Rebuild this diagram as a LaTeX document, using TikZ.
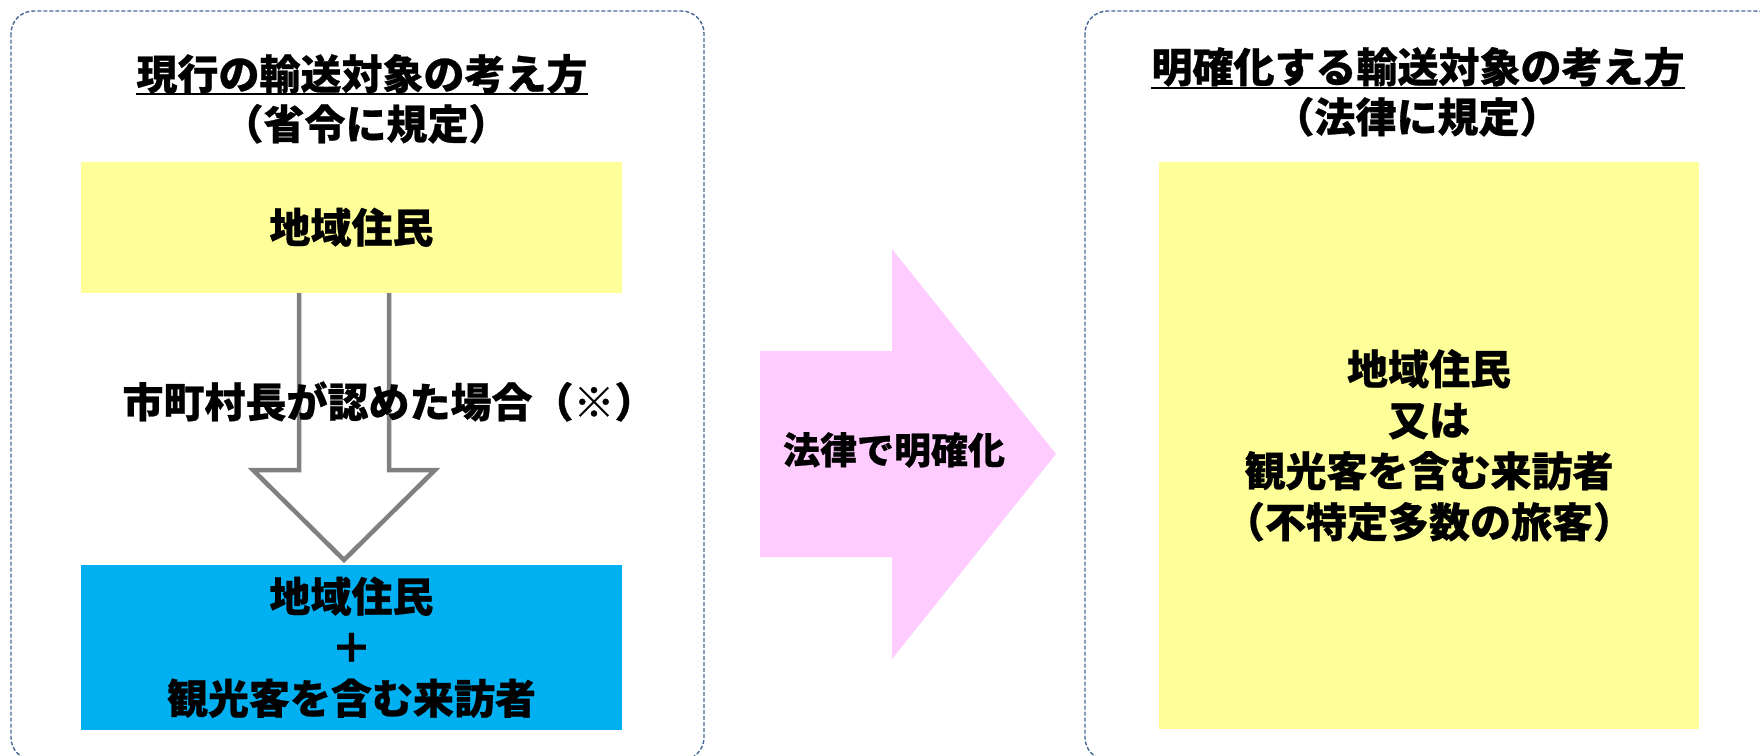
\documentclass[tikz,border=0pt]{standalone}
\usepackage{fontspec}
\setmainfont{Noto Sans CJK JP}[BoldFeatures={FakeBold=0.6}]
\definecolor{panelblue}{RGB}{72,104,152}
\definecolor{ylw}{HTML}{FFFF99}
\definecolor{cyanbox}{HTML}{00B0F0}
\definecolor{pinkarrow}{HTML}{FFCCFF}
\definecolor{grayarrow}{HTML}{808080}
\begin{document}
\begin{tikzpicture}[x=1pt,y=-1pt,
  panel/.style={draw=panelblue, dash pattern=on 4pt off 2pt, line width=1.4pt, rounded corners=22.5pt},
  big/.style={inner sep=0pt, align=center, text=black,
    font=\bfseries\fontsize{41}{51}\selectfont, text depth=0pt},
  one/.style={big, text height=30.75pt},
  three/.style={big, text height=132.75pt},
  four/.style={big, text height=183.75pt},
  arrowtxt/.style={inner sep=0pt, text=black, font=\bfseries\fontsize{37}{44}\selectfont,
    text height=27.75pt, text depth=0pt},
  ubar/.style={line width=2.2pt, black},
  outlinearrow/.style={draw=grayarrow, line width=4.5pt, miter limit=10, fill=white}
]
\useasboundingbox (0,0) rectangle (1760,755);
\clip (0,0) rectangle (1760,755);

% panels
\draw[panel] (11,11) rectangle (704,760);
\draw[panel] (1085,11) rectangle (1778,760);

% left panel titles
\node[one] (t1) at (362,74) {現行の輸送対象の考え方};
\draw[ubar] ([yshift=-5pt]t1.base west) -- ([yshift=-5pt]t1.base east);
\node[one] (s1) at (366,124) {（省令に規定）};

% hollow down arrow (drawn behind the boxes)
\coordinate (a1) at (299,280);
\coordinate (a2) at (299,470);
\coordinate (a3) at (253,470);
\coordinate (a4) at (344,560);
\coordinate (a5) at (435,470);
\coordinate (a6) at (389,470);
\coordinate (a7) at (389,280);
\draw[outlinearrow] (a1) -- (a2) -- (a3) -- (a4) -- (a5) -- (a6) -- (a7);

% boxes
\node[one, fill=ylw, minimum width=541pt, minimum height=131pt] (res) at (351.5,227.5) {地域住民};
\node[three, fill=cyanbox, minimum width=541pt, minimum height=165pt] (vis) at (351.5,647.5)
  {地域住民\\＋\\観光客を含む来訪者};

\node[one] (cond) at (389,402) {市町村長が認めた場合（※）};

% pink block arrow
\coordinate (p1) at (760,351);
\coordinate (p2) at (892,351);
\coordinate (p3) at (892,249);
\coordinate (p4) at (1056,454);
\coordinate (p5) at (892,659);
\coordinate (p6) at (892,557);
\coordinate (p7) at (760,557);
\fill[pinkarrow] (p1) -- (p2) -- (p3) -- (p4) -- (p5) -- (p6) -- (p7) -- cycle;
\node[arrowtxt] (law) at (894,450) {法律で明確化};

% right panel
\node[one] (t2) at (1418,67) {明確化する輸送対象の考え方};
\draw[ubar] ([yshift=-6pt]t2.base west) -- ([yshift=-6pt]t2.base east);
\node[one] (s2) at (1417,117) {（法律に規定）};

\node[four, fill=ylw, minimum width=540pt, minimum height=567pt] (new) at (1429,445.5)
  {地域住民\\又は\\観光客を含む来訪者\\（不特定多数の旅客）};
\end{tikzpicture}
\end{document}
